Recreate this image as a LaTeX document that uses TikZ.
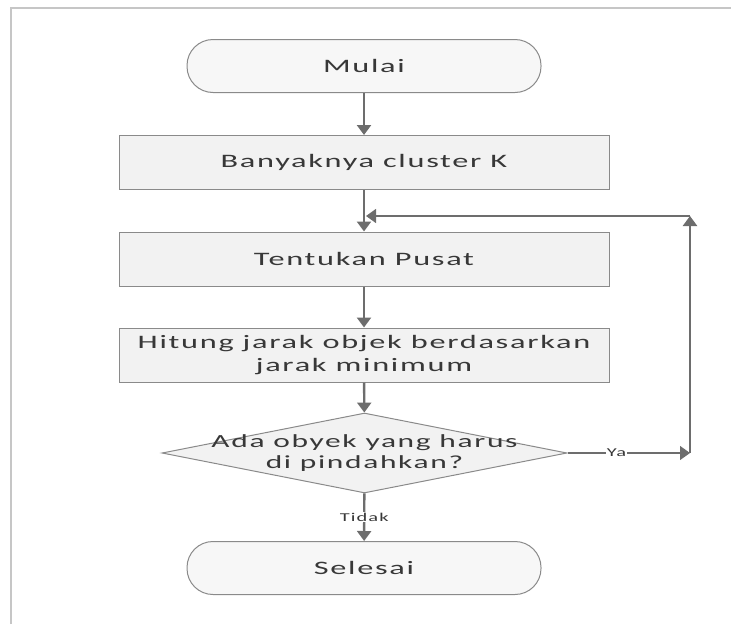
\documentclass[tikz,border=0pt]{standalone}
\usepackage{fontspec}
\newfontfamily\flowfont{Carlito}[FakeStretch=1.7, LetterSpace=9]
\usetikzlibrary{arrows.meta, positioning, shapes.geometric}
\definecolor{cline}{HTML}{6D6D6D}
\definecolor{cedge}{HTML}{8A8A8A}
\definecolor{cfill}{HTML}{F2F2F2}
\definecolor{ctext}{HTML}{383838}
\tikzset{
  every picture/.style={font=\flowfont, line width=1pt},
  prosesbox/.style={draw=cedge, fill=cfill, text=ctext, minimum width=490pt, minimum height=54pt, align=center, font=\flowfont\fontsize{19}{23}\selectfont},
  terminal/.style={draw=cedge, fill=cfill!60, text=ctext, rounded corners=26pt, minimum width=354pt, minimum height=53pt, font=\flowfont\fontsize{19}{23}\selectfont},
  keputusan/.style={diamond, draw=cedge, fill=cfill, inner sep=0pt, minimum width=405pt, minimum height=80pt},
  arrow/.style={-{Triangle[length=10pt, width=14pt]}, draw=cline, line width=2.4pt},
  tipis/.style={-{Triangle[length=10pt, width=14pt]}, draw=cline, line width=1.3pt},
  lbl/.style={font=\flowfont\fontsize{12}{14}\selectfont, text=ctext, fill=white, inner sep=1pt},
}
\begin{document}
\begin{tikzpicture}[x=1pt, y=-1pt]
  \useasboundingbox (0,0) rectangle (731,624);
  \draw[gray!45, line width=2pt] (11,624) -- (11,8) -- (731,8);
  \node[terminal] (mulai) at (364,66) {Mulai};
  \node[prosesbox] (cluster) at (364,162.5) {Banyaknya cluster K};
  \node[prosesbox] (pusat) at (364,259) {Tentukan Pusat};
  \node[prosesbox] (jarak) at (364,355) {Hitung jarak objek berdasarkan\\jarak minimum};
  \node[keputusan, label={[text=ctext, align=center, font=\flowfont\fontsize{18.5}{21}\selectfont]center:Ada obyek yang harus\\di pindahkan?}] (cek) at (364.5,453) {};
  \node[terminal] (selesai) at (364,568) {Selesai};
  \coordinate (bawah) at (690,453);
  \coordinate (atas) at (690,216);
  \coordinate (balik) at (366,216);
  \draw[arrow] (mulai) -- (cluster);
  \draw[arrow] (cluster) -- (pusat);
  \draw[arrow] (pusat) -- (jarak);
  \draw[arrow] (jarak) -- (cek);
  \draw[arrow] (cek) -- node[lbl] {Tidak} (selesai);
  \draw[tipis] (cek.east) -- node[lbl, pos=0.4] {Ya} (bawah);
  \draw[arrow] (bawah) -- (atas);
  \draw[tipis] (atas) -- (balik);
\end{tikzpicture}
\end{document}
